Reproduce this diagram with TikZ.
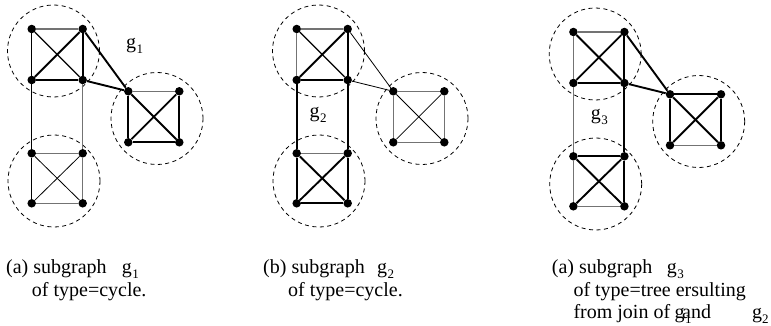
\documentclass[tikz,border=0pt]{standalone}
\usepackage{fontspec}
\setmainfont{Liberation Serif}
\tikzset{
  vtx/.style={circle,fill=black,inner sep=0pt,minimum size=8.5pt},
  grp/.style={circle,draw,dash pattern=on 4pt off 3.5pt,line width=0.8pt,minimum size=92pt,inner sep=0pt},
  hv/.style={line width=1.9pt,black},
  md/.style={line width=1.2pt,black},
  tn/.style={line width=0.8pt,black},
  gr/.style={line width=1.1pt,black!55},
  txt/.style={anchor=base west,inner sep=0pt,font=\fontsize{20}{24}\selectfont},
}
\newcommand\mysub[1]{\kern0.5pt\raisebox{-5pt}{\fontsize{13}{13}\selectfont #1}}
\newcommand\panelnodes[3]{%
  \begin{scope}[shift={(#2,#3)}]
    \node[grp] (#1cA) at (53.5,51) {};
    \node[grp] (#1cB) at (54,181) {};
    \node[grp] (#1cC) at (157,118.5) {};
    \node[vtx] (#1a) at (31.7,29) {};
    \node[vtx] (#1b) at (82.7,29) {};
    \node[vtx] (#1c) at (31.7,80) {};
    \node[vtx] (#1d) at (82.7,80) {};
    \node[vtx] (#1e) at (31.7,153.3) {};
    \node[vtx] (#1f) at (82.7,153.3) {};
    \node[vtx] (#1g) at (31.7,203.3) {};
    \node[vtx] (#1h) at (82.7,203.3) {};
    \node[vtx] (#1r) at (128.3,91.3) {};
    \node[vtx] (#1s) at (179.3,91.3) {};
    \node[vtx] (#1t) at (128.3,142.3) {};
    \node[vtx] (#1u) at (179.3,142.3) {};
  \end{scope}}
\begin{document}
\begin{tikzpicture}[x=1pt,y=-1pt]
\useasboundingbox (0,0) rectangle (771,326);
\panelnodes{p}{0}{0}
\panelnodes{q}{265}{0}
\panelnodes{w}{541.7}{3}
% panel 1
\draw[gr] (pa)--(pb);
\draw[md] (pa)--(pc);
\draw[md] (pa)--(pd);
\draw[hv] (pb)--(pc);
\draw[hv] (pb)--(pd);
\draw[hv] (pc)--(pd);
\draw[md] (pc)--(pe);
\draw[gr] (pd)--(pf);
\draw[gr] (pe)--(pf);
\draw[md] (pe)--(pg);
\draw[gr] (pf)--(ph);
\draw[gr] (pg)--(ph);
\draw[tn] (pe)--(ph);
\draw[tn] (pf)--(pg);
\draw[hv] (pb)--(pr);
\draw[hv] (pd)--(pr);
\draw[gr] (pr)--(ps);
\draw[hv] (pr)--(pt);
\draw[hv] (pt)--(pu);
\draw[hv] (ps)--(pu);
\draw[hv] (pr)--(pu);
\draw[hv] (ps)--(pt);
% panel 2
\draw[gr] (qa)--(qb);
\draw[gr] (qa)--(qc);
\draw[md] (qa)--(qd);
\draw[hv] (qb)--(qc);
\draw[hv] (qb)--(qd);
\draw[hv] (qc)--(qd);
\draw[hv] (qc)--(qe);
\draw[hv] (qd)--(qf);
\draw[gr] (qe)--(qf);
\draw[hv] (qe)--(qg);
\draw[hv] (qf)--(qh);
\draw[hv] (qg)--(qh);
\draw[hv] (qe)--(qh);
\draw[hv] (qf)--(qg);
\draw[tn] (qb)--(qr);
\draw[tn] (qd)--(qr);
\draw[gr] (qr)--(qs);
\draw[gr] (qr)--(qt);
\draw[gr] (qt)--(qu);
\draw[gr] (qs)--(qu);
\draw[tn] (qr)--(qu);
\draw[tn] (qs)--(qt);
% panel 3
\draw[gr] (wa)--(wb);
\draw[gr] (wa)--(wc);
\draw[hv] (wa)--(wd);
\draw[hv] (wb)--(wc);
\draw[hv] (wb)--(wd);
\draw[hv] (wc)--(wd);
\draw[gr] (wc)--(we);
\draw[hv] (wd)--(wf);
\draw[hv] (we)--(wf);
\draw[gr] (we)--(wg);
\draw[hv] (wf)--(wh);
\draw[gr] (wg)--(wh);
\draw[hv] (we)--(wh);
\draw[hv] (wf)--(wg);
\draw[hv] (wb)--(wr);
\draw[hv] (wd)--(wr);
\draw[hv] (wr)--(ws);
\draw[hv] (wr)--(wt);
\draw[gr] (wt)--(wu);
\draw[hv] (ws)--(wu);
\draw[hv] (wr)--(wu);
\draw[hv] (ws)--(wt);
% graph labels
\node[txt] (lg1) at (126,48.6) {g\mysub{1}};
\node[txt] (lg2) at (309.3,117.5) {g\mysub{2}};
\node[txt] (lg3) at (590.7,119.5) {g\mysub{3}};
% captions
\node[txt] (c1a) at (6,273) {(a) subgraph};
\node[txt] (c1g) at (121.7,273) {g\mysub{1}};
\node[txt] (c1b) at (31.7,296) {of type=cycle.};
\node[txt] (c2a) at (263,273) {(b) subgraph};
\node[txt] (c2g) at (377,273) {g\mysub{2}};
\node[txt] (c2b) at (288,296) {of type=cycle.};
\node[txt] (c3a) at (551.7,273) {(a) subgraph};
\node[txt] (c3g) at (666.7,273) {g\mysub{3}};
\node[txt] (c3b) at (573.3,296) {of type=tree ersulting};
\node[txt] (c3c) at (573.3,318.5) {from join of};
\node[txt] (c3d) at (674.5,318.5) {g\mysub{1}};
\node[txt] (c3e) at (682,318.5) {and};
\node[txt] (c3f) at (752,318.5) {g\kern-0.5pt\mysub{2}};
\end{tikzpicture}
\end{document}
